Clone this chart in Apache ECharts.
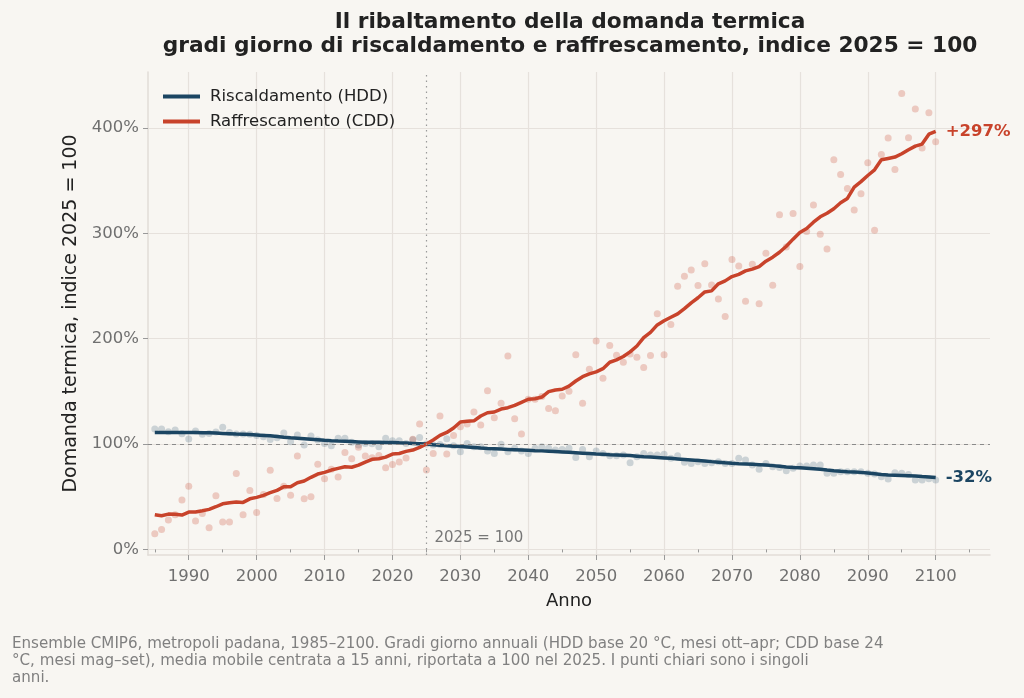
<!DOCTYPE html>
<html lang="it">
<head>
    <meta charset="UTF-8">
    <script src="https://cdn.jsdelivr.net/npm/echarts@6/dist/echarts.min.js"></script>
    <title>Il ribaltamento della domanda termica</title>
    <style>
        html, body { margin: 0; padding: 0; background-color: #f8f6f2; }
        #chart { width: 1024px; height: 698px; }
    </style>
</head>
<body>
    <div id="chart"></div>
    <script>
        var chart = echarts.init(document.getElementById('chart'));

        // anni 1985-2100
        var years = [];
        for (var y = 1985; y <= 2100; y++) years.push(y);

        // singoli anni (punti chiari)
        var hddPoints = [
            114.2, 114.2, 111.7, 113.3, 109.8, 104.7, 112.3, 109.2, 110.0, 111.5,
            115.8, 111.0, 109.5, 109.5, 109.2, 108.0, 107.0, 104.4, 106.0, 110.4,
            102.2, 108.5, 99.0, 107.6, 103.8, 100.6, 98.4, 105.4, 105.4, 101.6,
            99.0, 100.6, 100.3, 97.5, 105.4, 103.2, 103.2, 100.6, 104.0, 106.3,
            100.0, 99.0, 99.5, 105.0, 98.4, 92.7, 100.6, 97.5, 97.5, 93.4,
            91.1, 99.7, 92.7, 95.9, 93.4, 91.1, 95.9, 97.5, 95.9, 94.3,
            94.9, 95.9, 87.3, 94.9, 88.0, 93.4, 91.1, 88.9, 88.9, 89.6,
            82.3, 88.0, 91.1, 89.6, 89.6, 90.2, 86.4, 88.9, 82.6, 81.6,
            83.2, 81.6, 82.3, 83.2, 81.6, 81.6, 86.4, 84.8, 80.0, 76.0,
            81.6, 78.5, 77.8, 74.7, 76.9, 79.1, 79.1, 80.0, 80.0, 72.2,
            72.2, 73.7, 73.7, 73.7, 73.7, 72.2, 71.5, 69.0, 66.8, 72.8,
            72.2, 71.2, 65.8, 65.8, 67.0, 65.8
        ];
        var cddPoints = [
            14.8, 19.0, 27.8, 33.0, 46.8, 60.0, 27.0, 34.0, 20.5, 51.0,
            26.0, 26.0, 72.0, 33.0, 56.0, 35.0, 52.0, 75.0, 48.4, 60.0,
            51.3, 88.6, 48.0, 50.0, 80.7, 67.0, 76.0, 68.6, 92.0, 86.0,
            97.0, 88.6, 87.0, 89.0, 77.5, 80.6, 83.0, 86.7, 104.5, 119.0,
            75.3, 91.0, 126.6, 90.5, 108.0, 116.5, 119.0, 130.4, 118.0, 150.6,
            125.0, 138.7, 183.6, 124.0, 109.5, 142.5, 142.5, 145.0, 133.6, 131.6,
            145.6, 150.0, 184.8, 138.7, 171.0, 197.8, 162.4, 193.4, 184.2, 177.6,
            185.5, 182.3, 172.5, 183.9, 223.5, 184.8, 213.3, 249.7, 259.3, 265.2,
            250.3, 271.0, 251.0, 237.7, 221.0, 275.0, 269.0, 235.5, 270.6, 233.0,
            281.0, 250.7, 317.5, 287.0, 318.7, 268.4, 301.6, 326.7, 299.0, 285.0,
            369.7, 355.8, 342.5, 322.0, 337.4, 367.0, 302.9, 374.7, 390.3, 360.5,
            432.7, 390.6, 418.0, 381.0, 414.3, 386.8
        ];

        // media mobile 15 anni
        var hddSmooth = [
            111.0, 111.0, 110.9, 111.0, 111.0, 111.0, 111.0, 110.8, 110.6, 110.4,
            110.1, 109.8, 109.5, 109.3, 109.0, 108.6, 108.2, 107.8, 107.1, 106.4,
            105.9, 105.5, 105.0, 104.5, 104.0, 103.5, 103.1, 102.8, 102.6, 102.3,
            102.0, 101.7, 101.6, 101.6, 101.5, 101.4, 101.1, 100.9, 100.6, 100.3,
            100.0, 99.4, 98.9, 98.4, 98.0, 97.6, 97.2, 96.7, 96.2, 95.8,
            95.5, 95.2, 94.9, 94.6, 94.3, 94.0, 93.7, 93.5, 93.2, 92.9,
            92.5, 92.1, 91.7, 91.3, 90.9, 90.5, 90.2, 89.9, 89.7, 89.4,
            89.0, 88.5, 88.0, 87.6, 87.2, 86.8, 86.4, 85.9, 85.4, 84.9,
            84.4, 83.9, 83.3, 82.8, 82.2, 81.7, 81.3, 81.0, 80.7, 80.4,
            80.1, 79.5, 78.9, 78.3, 77.8, 77.4, 77.0, 76.5, 76.0, 75.3,
            74.7, 74.2, 73.8, 73.5, 73.1, 72.6, 71.8, 71.0, 70.5, 70.3,
            70.1, 69.9, 69.7, 69.2, 68.8, 68.3
        ];
        var cddSmooth = [
            32.9, 31.9, 33.5, 33.3, 32.6, 35.4, 35.5, 36.7, 38.0, 40.5,
            43.3, 44.3, 45.0, 44.6, 48.0, 49.4, 51.3, 53.8, 56.0, 59.5,
            59.5, 63.3, 64.9, 68.4, 71.5, 73.1, 75.3, 76.9, 78.4, 78.0,
            80.0, 82.9, 85.5, 86.0, 87.6, 90.5, 91.0, 93.0, 94.3, 96.8,
            100.0, 103.8, 108.2, 111.0, 115.2, 120.9, 121.5, 122.0, 126.6, 129.7,
            130.4, 133.2, 134.5, 136.7, 139.6, 142.5, 143.0, 144.6, 149.7, 151.3,
            152.0, 155.0, 159.8, 163.9, 166.5, 168.4, 171.5, 177.6, 179.8, 183.0,
            187.4, 193.0, 201.0, 206.0, 213.0, 217.0, 220.3, 223.5, 228.5, 234.0,
            238.8, 244.3, 245.3, 252.0, 254.8, 258.9, 261.0, 264.3, 266.0, 268.4,
            273.5, 277.3, 282.0, 287.7, 294.4, 300.7, 304.5, 310.5, 315.6, 319.0,
            323.2, 328.9, 333.0, 343.8, 349.0, 354.8, 360.2, 369.7, 371.0, 372.3,
            375.4, 379.2, 382.7, 384.6, 394.0, 396.6
        ];

        var xMajor = [1990, 2000, 2010, 2020, 2030, 2040, 2050, 2060, 2070, 2080, 2090, 2100];
        var xMinor = [1985, 1995, 2005, 2015, 2025, 2035, 2045, 2055, 2065, 2075, 2085, 2095, 2105];
        var yTicks = [0, 100, 200, 300, 400];
        var baseYear = 2025;

        var HDD_COLOR = '#1b4562';
        var CDD_COLOR = '#c8432b';
        var FONT = 'DejaVu Sans';

        function pairs(vals) {
            return years.map(function (yr, i) { return [yr, vals[i]]; });
        }
        function endPct(vals) {
            var d = Math.round(vals[vals.length - 1] - 100);
            return (d > 0 ? '+' : '') + d + '%';
        }

        var option = {
            backgroundColor: '#f8f6f2',
            animation: false,
            textStyle: { fontFamily: FONT },
            grid: { left: 148, right: 34, top: 72, bottom: 143 },
            legend: {
                left: 155, top: 83, orient: 'vertical',
                icon: 'rect', itemWidth: 37, itemHeight: 4, itemGap: 8,
                data: ['Riscaldamento (HDD)', 'Raffrescamento (CDD)'],
                textStyle: { fontSize: 16.5, color: '#222', fontFamily: FONT, padding: [0, 0, 0, 5] },
                padding: [5, 8]
            },
            xAxis: [{
                type: 'value', min: 1984, max: 2108,
                name: 'Anno', nameLocation: 'middle', nameGap: 37,
                nameTextStyle: { fontSize: 18, color: '#222', fontFamily: FONT },
                axisLine: { show: true, onZero: false, lineStyle: { color: '#e2ddd7', width: 1.5 } },
                axisTick: { show: true, customValues: xMajor, length: 5, lineStyle: { color: '#999' } },
                axisLabel: {
                    customValues: xMajor, fontSize: 16.5, color: '#707070', margin: 13, fontFamily: FONT,
                    formatter: function (v) { return String(v); }
                },
                splitLine: { show: true, lineStyle: { color: '#e6e1dc', width: 1.2 } }
            }, {
                type: 'value', min: 1984, max: 2108, position: 'bottom',
                axisLine: { show: false },
                axisTick: { show: true, customValues: xMinor, length: 3, lineStyle: { color: '#999' } },
                axisLabel: { show: false },
                splitLine: { show: false }
            }],
            yAxis: {
                type: 'value', min: -5.3, max: 453,
                name: 'Domanda termica, indice 2025 = 100', nameLocation: 'middle', nameGap: 66,
                nameTextStyle: { fontSize: 19, color: '#222', fontFamily: FONT },
                axisLine: { show: true, onZero: false, lineStyle: { color: '#e2ddd7', width: 1.5 } },
                axisTick: { show: true, customValues: yTicks, length: 5, lineStyle: { color: '#999' } },
                axisLabel: { customValues: yTicks, formatter: '{value}%', fontSize: 16.5, color: '#707070', margin: 9, fontFamily: FONT },
                splitLine: { show: true, lineStyle: { color: '#e6e1dc', width: 1.2 } }
            },
            series: [{
                name: 'hdd anni', type: 'scatter', data: pairs(hddPoints),
                symbolSize: 7, itemStyle: { color: HDD_COLOR, opacity: 0.2 }, z: 1,
                markLine: {
                    silent: true, symbol: 'none', label: { show: false },
                    data: [
                        { yAxis: 100, lineStyle: { color: '#8a8a8a', type: [4, 4], width: 1 } },
                        { xAxis: baseYear, lineStyle: { color: '#9a9a9a', type: [1.5, 4], width: 1.2 } }
                    ]
                },
                markPoint: {
                    symbol: 'circle', symbolSize: 0,
                    data: [{ coord: [baseYear, 11], value: '2025 = 100' }],
                    label: { show: true, position: 'right', distance: 8, formatter: '2025 = 100', color: '#777', fontSize: 15, fontFamily: FONT }
                }
            }, {
                name: 'cdd anni', type: 'scatter', data: pairs(cddPoints),
                symbolSize: 7, itemStyle: { color: CDD_COLOR, opacity: 0.25 }, z: 1
            }, {
                name: 'Riscaldamento (HDD)', type: 'line', data: pairs(hddSmooth),
                showSymbol: false, color: HDD_COLOR, z: 3,
                lineStyle: { width: 3.5, color: HDD_COLOR },
                endLabel: { show: true, formatter: endPct(hddSmooth), distance: 10, color: HDD_COLOR, fontSize: 16.5, fontWeight: 'bold', fontFamily: FONT }
            }, {
                name: 'Raffrescamento (CDD)', type: 'line', data: pairs(cddSmooth),
                showSymbol: false, color: CDD_COLOR, z: 4,
                lineStyle: { width: 3.5, color: CDD_COLOR },
                endLabel: { show: true, formatter: endPct(cddSmooth), distance: 10, color: CDD_COLOR, fontSize: 16.5, fontWeight: 'bold', fontFamily: FONT }
            }],
            graphic: [{
                type: 'text', x: 570, y: 10,
                style: {
                    text: 'Il ribaltamento della domanda termica\ngradi giorno di riscaldamento e raffrescamento, indice 2025 = 100',
                    align: 'center',
                    font: 'bold 21.7px "DejaVu Sans"', lineHeight: 24, fill: '#222'
                }
            }, {
                type: 'text', left: 12, top: 636,
                style: {
                    text: 'Ensemble CMIP6, metropoli padana, 1985–2100. Gradi giorno annuali (HDD base 20 °C, mesi ott–apr; CDD base 24\n°C, mesi mag–set), media mobile centrata a 15 anni, riportata a 100 nel 2025. I punti chiari sono i singoli\nanni.',
                    font: '15.1px "DejaVu Sans"', lineHeight: 17, fill: '#808080'
                }
            }]
        };

        chart.setOption(option);
    </script>
</body>
</html>
